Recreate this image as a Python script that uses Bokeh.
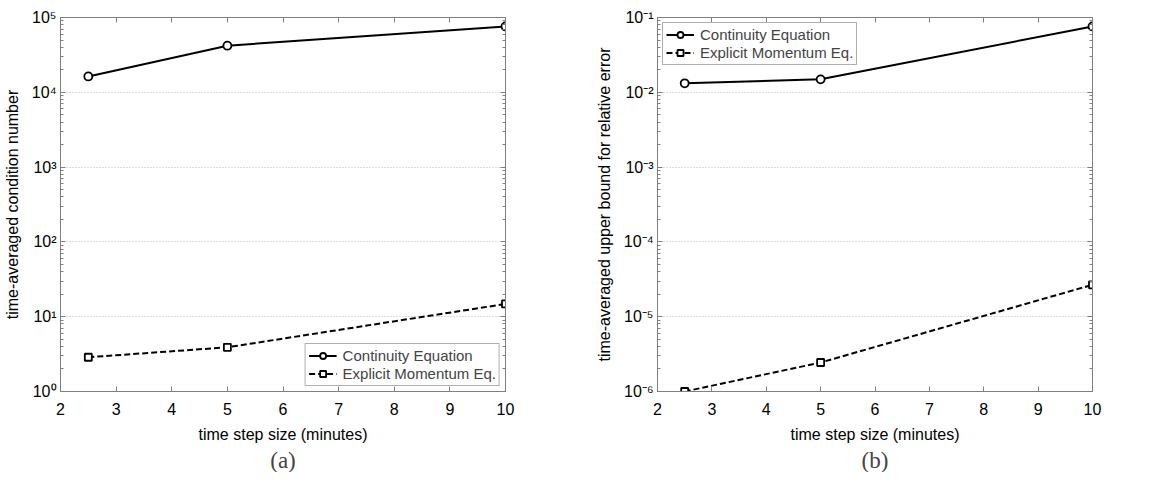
from bokeh.plotting import figure
from bokeh.layouts import row
from bokeh.models import (LinearAxis, LogAxis, FixedTicker, CustomJSTickFormatter,
                          Title, Legend, LegendItem, Range1d)
from bokeh.embed import file_html
from bokeh.resources import INLINE

# data
steps = [2.5, 5, 10]
cond_cont = [1.63e4, 4.2e4, 7.6e4]
cond_mom = [2.87, 3.9, 14.8]
err_cont = [1.32e-2, 1.49e-2, 7.6e-2]
err_mom = [1.0e-6, 2.44e-6, 2.67e-5]
x_ticks = [2, 3, 4, 5, 6, 7, 8, 9, 10]
labels = ["Continuity Equation", "Explicit Momentum Eq."]

SUP_CODE = """
const m = {'0':'\u2070','1':'\u00b9','2':'\u00b2','3':'\u00b3','4':'\u2074','5':'\u2075',
           '6':'\u2076','7':'\u2077','8':'\u2078','9':'\u2079','-':'\u207b'};
const e = String(Math.round(Math.log10(tick)));
let s = '';
for (const c of e) s += m[c];
return '10' + s;
"""

AX = "#808080"
FONT = "Liberation Sans"


def style_box_axis(ax):
    ax.axis_line_color = AX
    ax.major_tick_line_color = AX
    ax.minor_tick_line_color = AX
    ax.major_tick_in = 5
    ax.major_tick_out = 0
    ax.minor_tick_in = 3
    ax.minor_tick_out = 0
    ax.major_label_text_font_size = "1px"
    ax.major_label_text_alpha = 0
    ax.major_label_standoff = 0


def make(width, height, bl, br, bt, bb, ylo, yhi, ylabel, caption, ya, yb, legend_loc):
    decades = [10.0 ** k for k in range(ylo, yhi + 1)]
    minors = [m * 10.0 ** k for k in range(ylo, yhi) for m in range(2, 10)]
    p = figure(width=width, height=height, y_axis_type="log", output_backend="svg",
               toolbar_location=None, x_range=Range1d(2, 10),
               y_range=Range1d(10.0 ** ylo, 10.0 ** yhi),
               min_border_left=bl, min_border_right=br, min_border_top=bt,
               min_border_bottom=bb)
    p.outline_line_color = AX
    p.xgrid.visible = False
    p.ygrid.ticker = FixedTicker(ticks=decades, minor_ticks=minors)
    p.ygrid.grid_line_color = "#b8b8b8"
    p.ygrid.grid_line_dash = "1 2"
    p.xaxis.ticker = FixedTicker(ticks=x_ticks, minor_ticks=[])
    p.yaxis.ticker = FixedTicker(ticks=decades, minor_ticks=minors)
    p.yaxis.formatter = CustomJSTickFormatter(code=SUP_CODE)
    for ax in p.xaxis + p.yaxis:
        ax.axis_line_color = AX
        ax.major_tick_line_color = AX
        ax.minor_tick_line_color = AX
        ax.major_tick_in = 5
        ax.major_tick_out = 0
        ax.minor_tick_in = 3
        ax.minor_tick_out = 0
        ax.major_label_text_font = FONT
        ax.major_label_text_font_size = "16px"
        ax.major_label_text_color = "black"
        ax.axis_label_text_font = FONT
        ax.axis_label_text_font_size = "16px"
        ax.axis_label_text_font_style = "normal"
        ax.axis_label_text_color = "black"
        ax.major_label_standoff = 4
        ax.axis_label_standoff = 8
    p.xaxis.major_label_standoff = 11
    p.xaxis.axis_label_standoff = 8
    p.xaxis.axis_label = "time step size (minutes)"
    p.yaxis.axis_label = ylabel

    top = LinearAxis(ticker=FixedTicker(ticks=x_ticks, minor_ticks=[]))
    style_box_axis(top)
    right = LogAxis(ticker=FixedTicker(ticks=decades, minor_ticks=minors))
    style_box_axis(right)
    p.add_layout(top, "above")
    p.add_layout(right, "right")

    l1 = p.line(steps, ya, line_color="black", line_width=2)
    s1 = p.scatter(steps, ya, marker="circle", size=8, fill_color="white",
                   line_color="black", line_width=1.8)
    l2 = p.line(steps, yb, line_color="black", line_width=2, line_dash="6 3")
    s2 = p.scatter(steps, yb, marker="square", size=7, fill_color="white",
                   line_color="black", line_width=1.8)
    leg = Legend(items=[LegendItem(label=labels[0], renderers=[l1, s1]),
                        LegendItem(label=labels[1], renderers=[l2, s2])],
                 location=legend_loc, label_text_font=FONT, label_text_font_size="15px",
                 label_height=15, glyph_height=15, glyph_width=28, spacing=1,
                 padding=3, margin=5, border_line_color="#606060", border_line_width=1,
                 label_standoff=6)
    p.add_layout(leg)
    cap = Title(text=caption, align="center", text_font="Liberation Serif",
                text_font_size="23px", text_font_style="normal", standoff=0,
                text_line_height=0.9)
    p.add_layout(cap, "below")
    return p


pa = make(583, 472, 60, 78, 17, 79, 0, 5, "time-averaged condition number", "(a)",
          cond_cont, cond_mom, "bottom_right")
pb = make(562, 472, 74, 53, 17, 79, -6, -1, "time-averaged upper bound for relative error",
          "(b)", err_cont, err_mom, "top_left")

layout = row(pa, pb)
open("out.html", "w").write(file_html(layout, INLINE))
